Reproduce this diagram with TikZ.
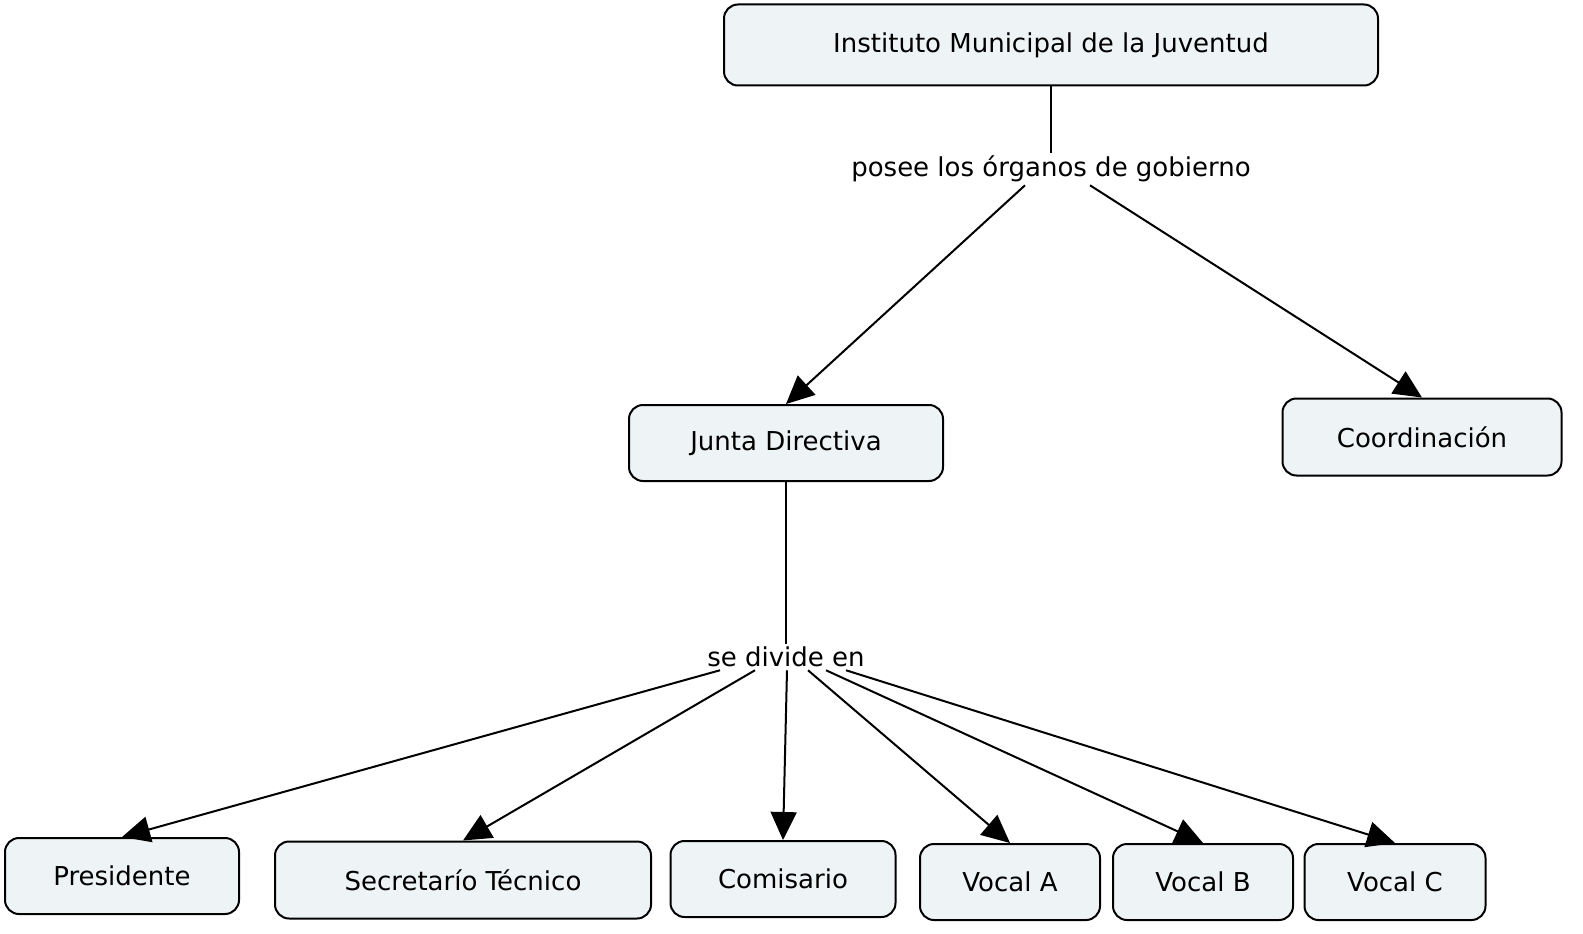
\documentclass[tikz,border=0pt]{standalone}
\usepackage{fontspec}
\setmainfont{DejaVu Sans}
\usetikzlibrary{arrows.meta}
\begin{document}
\begin{tikzpicture}[x=1pt,y=-1pt,
  box/.style={draw,line width=2pt,rounded corners=14pt,fill=cfill,minimum height=76pt,inner sep=0pt,font=\fontsize{26}{30}\selectfont},
  lab/.style={fill=white,inner sep=3pt,font=\fontsize{26}{30}\selectfont},
  con/.style={line width=2pt,-{Triangle[length=28pt,width=26pt]}}]
\definecolor{cfill}{HTML}{EEF4F6}
\useasboundingbox (0,0) rectangle (1583,934);
\node[box,minimum width=654pt,minimum height=81pt] (ins) at (1051,45) {Instituto Municipal de la Juventud};
\node[lab] (pos) at (1051,169) {posee los órganos de gobierno};
\node[box,minimum width=314pt] (jun) at (786,443) {Junta Directiva};
\node[box,minimum width=279pt,minimum height=77pt] (coo) at (1422,437) {Coordinación};
\node[lab] (div) at (786,657) {se divide en};
\node[box,minimum width=234pt] (pre) at (122,876) {Presidente};
\node[box,minimum width=376pt,minimum height=77pt] (sec) at (463,880) {Secretarío Técnico};
\node[box,minimum width=225pt] (com) at (783,879) {Comisario};
\node[box,minimum width=180pt] (va) at (1010,882) {Vocal A};
\node[box,minimum width=180pt] (vb) at (1203,882) {Vocal B};
\node[box,minimum width=181pt] (vc) at (1395,882) {Vocal C};
\draw[line width=2pt] (ins) -- (pos);
\draw[con] (pos.south -| 1025,0) -- (jun.north);
\draw[con] (pos.south -| 1090,0) -- (coo.north);
\draw[line width=2pt] (jun) -- (div);
\draw[con] (div.south -| 720,0) -- (pre.north);
\draw[con] (div.south -| 755,0) -- (sec.north);
\draw[con] (div.south -| 787,0) -- (com.north);
\draw[con] (div.south -| 808,0) -- (va.north);
\draw[con] (div.south -| 826,0) -- (vb.north);
\draw[con] (div.south -| 846,0) -- (vc.north);
\end{tikzpicture}
\end{document}
